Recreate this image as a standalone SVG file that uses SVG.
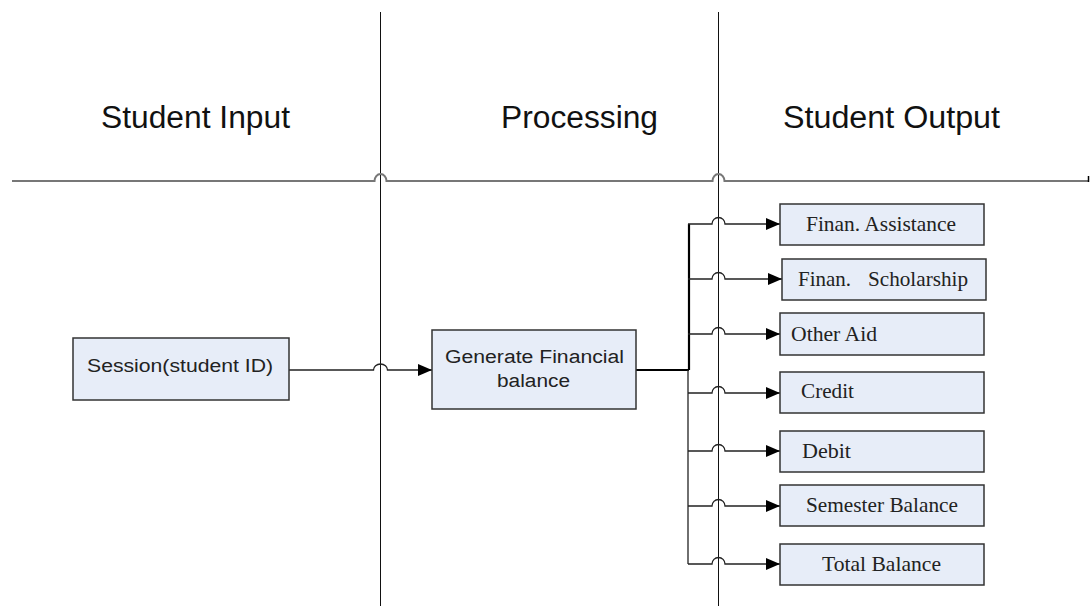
<svg xmlns="http://www.w3.org/2000/svg" width="1090" height="606" viewBox="0 0 1090 606">
  <style>
    .lane { stroke: #111; stroke-width: 1; fill: none; }
    .header-line { stroke: #777; stroke-width: 2; fill: none; }
    .box { fill: #E7EDF8; stroke: #333; stroke-width: 1.5; }
    .conn { stroke: #222; stroke-width: 1.3; fill: none; }
    .conn-bold { stroke: #000; stroke-width: 2.2; fill: none; }
    .hdr { font-family: "Liberation Sans", Arial, sans-serif; font-size: 31px; fill: #111; }
    .sans { font-family: "Liberation Sans", Arial, sans-serif; font-size: 18px; fill: #222; }
    .serif { font-family: "Liberation Serif", "Times New Roman", serif; font-size: 21px; fill: #222; }
  </style>
  <defs>
    <marker id="arrow" markerUnits="userSpaceOnUse" markerWidth="14" markerHeight="12" refX="14" refY="6" orient="auto">
      <path d="M0,0 L14,6 L0,12 z" fill="#000"/>
    </marker>
  </defs>

  <rect width="1090" height="606" fill="#fff"/>

  <!-- swimlane frame -->
  <g id="lanes">
    <line class="lane" x1="380.5" y1="12" x2="380.5" y2="606"/>
    <line class="lane" x1="718.5" y1="12" x2="718.5" y2="606"/>
    <path class="header-line" d="M12,181 H374.5 a6,7 0 0 1 12,0 H712.5 a6,7 0 0 1 12,0 H1088"/>
    <line x1="1088.5" y1="176" x2="1088.5" y2="182" stroke="#000" stroke-width="1.5"/>
  </g>

  <!-- lane titles -->
  <g id="titles">
    <text class="hdr" x="101" y="128" textLength="189" lengthAdjust="spacingAndGlyphs">Student Input</text>
    <text class="hdr" x="501" y="128" textLength="157" lengthAdjust="spacingAndGlyphs">Processing</text>
    <text class="hdr" x="783" y="128" textLength="217" lengthAdjust="spacingAndGlyphs">Student Output</text>
  </g>

  <!-- connectors -->
  <g id="connectors">
    <path class="conn" d="M289,370 H373.5 a7,6 0 0 1 14,0 H432" marker-end="url(#arrow)"/>
    <path class="conn-bold" d="M636,370 H689"/>
    <path class="conn-bold" d="M689,224 V370"/>
    <path class="conn" d="M688,370 V564"/>
    <path class="conn" d="M688,224 H712 a6.5,6.5 0 0 1 13,0 H780" marker-end="url(#arrow)"/>
    <path class="conn" d="M688,279 H712 a6.5,6.5 0 0 1 13,0 H782" marker-end="url(#arrow)"/>
    <path class="conn" d="M688,334 H712 a6.5,6.5 0 0 1 13,0 H780" marker-end="url(#arrow)"/>
    <path class="conn" d="M688,393 H712 a6.5,6.5 0 0 1 13,0 H780" marker-end="url(#arrow)"/>
    <path class="conn" d="M688,451 H712 a6.5,6.5 0 0 1 13,0 H780" marker-end="url(#arrow)"/>
    <path class="conn" d="M688,506 H712 a6.5,6.5 0 0 1 13,0 H780" marker-end="url(#arrow)"/>
    <path class="conn" d="M688,564 H712 a6.5,6.5 0 0 1 13,0 H780" marker-end="url(#arrow)"/>
  </g>

  <g id="session">
    <rect class="box" x="73" y="338" width="216" height="62"/>
    <text class="sans" x="87" y="372" textLength="186" lengthAdjust="spacingAndGlyphs">Session(student ID)</text>
  </g>

  <g id="generate">
    <rect class="box" x="432" y="330" width="204" height="79"/>
    <text class="sans" x="445" y="363" font-size="19" textLength="179" lengthAdjust="spacingAndGlyphs">Generate Financial</text>
    <text class="sans" x="497" y="387" font-size="19" textLength="73" lengthAdjust="spacingAndGlyphs">balance</text>
  </g>

  <g id="finan-assistance">
    <rect class="box" x="780" y="204" width="204" height="41"/>
    <text class="serif" x="806" y="231" textLength="150" lengthAdjust="spacingAndGlyphs">Finan. Assistance</text>
  </g>

  <g id="finan-scholarship">
    <rect class="box" x="782" y="259" width="204" height="41"/>
    <text class="serif" x="798" y="286" textLength="53" lengthAdjust="spacingAndGlyphs">Finan.</text>
    <text class="serif" x="868" y="286" textLength="100" lengthAdjust="spacingAndGlyphs">Scholarship</text>
  </g>

  <g id="other-aid">
    <rect class="box" x="780" y="313" width="204" height="42"/>
    <text class="serif" x="791" y="341" textLength="86" lengthAdjust="spacingAndGlyphs">Other Aid</text>
  </g>

  <g id="credit">
    <rect class="box" x="780" y="372" width="204" height="41"/>
    <text class="serif" x="801" y="398" textLength="53" lengthAdjust="spacingAndGlyphs">Credit</text>
  </g>

  <g id="debit">
    <rect class="box" x="780" y="431" width="204" height="41"/>
    <text class="serif" x="802" y="458" textLength="49" lengthAdjust="spacingAndGlyphs">Debit</text>
  </g>

  <g id="semester-balance">
    <rect class="box" x="780" y="485" width="204" height="41"/>
    <text class="serif" x="806" y="512" textLength="152" lengthAdjust="spacingAndGlyphs">Semester Balance</text>
  </g>

  <g id="total-balance">
    <rect class="box" x="780" y="544" width="204" height="41"/>
    <text class="serif" x="822" y="571" textLength="119" lengthAdjust="spacingAndGlyphs">Total Balance</text>
  </g>
</svg>
